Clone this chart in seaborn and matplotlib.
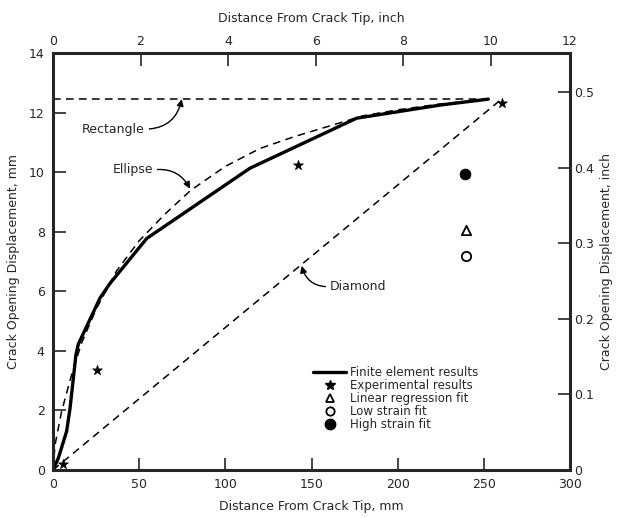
import numpy as np
import pandas as pd
import seaborn as sns
import matplotlib
matplotlib.use("Agg")
import matplotlib.pyplot as plt
from matplotlib.lines import Line2D

# ---- data (mm) ----
fe_x = [0, 3.1, 7.9, 9.9, 13.3, 14.7, 27.3, 33.1, 54.4, 114.3, 176.2, 224.6, 252.6]
fe_y = [0, 0.4, 1.3, 2.08, 3.87, 4.23, 5.78, 6.27, 7.78, 10.14, 11.82, 12.26, 12.46]

ell_x = [0, 1.2, 5, 10.8, 16.6, 25, 37, 50, 65, 80, 100, 120, 140, 160, 180, 200, 225, 252.6]
ell_y = [0, 0.85, 1.97, 3.2, 4.27, 5.4, 6.7, 7.7, 8.6, 9.4, 10.2, 10.8, 11.2, 11.55, 11.9, 12.1, 12.3, 12.46]

rect_x = [0, 252.6]
rect_y = [12.46, 12.46]

dia_x = [0, 259]
dia_y = [0, 12.4]

exp_x = [5.6, 25.3, 142.4, 260.4]
exp_y = [0.2, 3.37, 10.25, 12.34]

lin_x = [239.6]
lin_y = [8.06]
low_x = [239.6]
low_y = [7.19]
high_x = [239.1]
high_y = [9.95]

x_ticks_mm = [0, 50, 100, 150, 200, 250, 300]
y_ticks_mm = [0, 2, 4, 6, 8, 10, 12, 14]
x_ticks_in = [0, 2, 4, 6, 8, 10]
y_ticks_in = [0, 0.1, 0.2, 0.3, 0.4, 0.5]
y_ticklabels_in = ["0", "0.1", "0.2", "0.3", "0.4", "0.5"]

sns.set_style("ticks")
plt.rcParams['font.family'] = ['DejaVu Sans']

fig = plt.figure(figsize=(6.19, 5.18), dpi=100)
ax = fig.add_axes([53/619, 1-470/518, (570-53)/619, (470-53.3)/518])

dash = (5, 3.5)
sns.lineplot(x=fe_x, y=fe_y, ax=ax, color="black", lw=2.4, sort=False, estimator=None)
sns.lineplot(x=ell_x, y=ell_y, ax=ax, color="black", lw=1.1, sort=False, estimator=None).lines[-1].set_dashes(dash)
sns.lineplot(x=rect_x, y=rect_y, ax=ax, color="black", lw=1.1, sort=False, estimator=None).lines[-1].set_dashes(dash)
sns.lineplot(x=dia_x, y=dia_y, ax=ax, color="black", lw=1.1, sort=False, estimator=None).lines[-1].set_dashes(dash)

sns.scatterplot(x=exp_x, y=exp_y, ax=ax, marker="*", s=55, color="black", edgecolor="black", linewidth=0.5, zorder=5)
sns.scatterplot(x=lin_x, y=lin_y, ax=ax, marker="^", s=45, facecolor="white", edgecolor="black", linewidth=1.3, zorder=5)
sns.scatterplot(x=low_x, y=low_y, ax=ax, marker="o", s=45, facecolor="white", edgecolor="black", linewidth=1.3, zorder=5)
sns.scatterplot(x=high_x, y=high_y, ax=ax, marker="o", s=60, color="black", edgecolor="black", zorder=5)

ax.set_xlim(0, 300)
ax.set_ylim(0, 14)
ax.set_xticks(x_ticks_mm)
ax.set_yticks(y_ticks_mm)
ax.tick_params(direction="in", length=9, width=1.2, labelsize=9, pad=6)
for s in ax.spines.values():
    s.set_linewidth(2.2)
    s.set_visible(True)
ax.set_xlabel("Distance From Crack Tip, mm", fontsize=9, labelpad=6)
ax.set_ylabel("Crack Opening Displacement, mm", fontsize=9, labelpad=6)

top = ax.secondary_xaxis("top", functions=(lambda v: v/25.4, lambda v: v*25.4))
top.set_xticks(x_ticks_in + [300/25.4])
top.set_xticklabels([str(t) for t in x_ticks_in] + ["12"])
top.tick_params(direction="in", length=9, width=1.2, labelsize=9, pad=4)
top.set_xlabel("Distance From Crack Tip, inch", fontsize=9, labelpad=9)

right = ax.secondary_yaxis("right", functions=(lambda v: v/25.4, lambda v: v*25.4))
right.set_yticks(y_ticks_in)
right.set_yticklabels(y_ticklabels_in)
right.tick_params(direction="in", length=9, width=1.2, labelsize=9, pad=3)
right.set_ylabel("Crack Opening Displacement, inch", fontsize=9, labelpad=4)

arrow = dict(arrowstyle="-|>", color="black", lw=1.0, mutation_scale=10, shrinkA=1, shrinkB=0)
ax.annotate("Rectangle", xy=(74.7, 12.46), xytext=(35, 11.45), ha="center", va="center", fontsize=9,
            arrowprops=dict(arrow, connectionstyle="arc3,rad=0.4", relpos=(1, 0.5)))
ax.annotate("Ellipse", xy=(79.5, 9.45), xytext=(46.2, 10.08), ha="center", va="center", fontsize=9,
            arrowprops=dict(arrow, connectionstyle="arc3,rad=-0.35", relpos=(1, 0.5)))
ax.annotate("Diamond", xy=(144.3, 6.86), xytext=(177.2, 6.16), ha="center", va="center", fontsize=9,
            arrowprops=dict(arrow, connectionstyle="arc3,rad=-0.4", relpos=(0, 0.5)))

handles = [
    Line2D([], [], color="black", lw=2.4),
    Line2D([], [], color="black", marker="*", ls="none", markersize=7),
    Line2D([], [], color="black", marker="^", ls="none", markersize=6, mfc="white", mew=1.3),
    Line2D([], [], color="black", marker="o", ls="none", markersize=6, mfc="white", mew=1.3),
    Line2D([], [], color="black", marker="o", ls="none", markersize=7.5),
]
labels = ["Finite element results", "Experimental results", "Linear regression fit",
          "Low strain fit", "High strain fit"]
ax.legend(handles, labels, loc="upper left", bbox_to_anchor=((313-53)/517, (470-366)/416.7),
          frameon=False, fontsize=8.5, handlelength=2.8, handletextpad=0.3, labelspacing=0.0,
          borderpad=0, borderaxespad=0)

fig.savefig("out.png", dpi=100)
